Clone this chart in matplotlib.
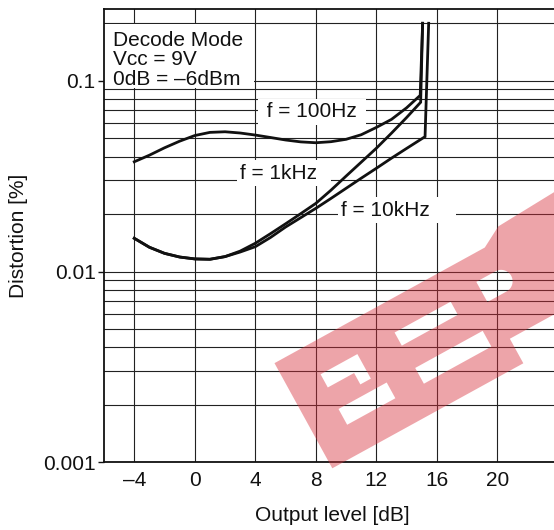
import numpy as np
import matplotlib
matplotlib.use("Agg")
import matplotlib.pyplot as plt
from matplotlib.path import Path
from matplotlib.patches import PathPatch, Rectangle
from matplotlib.transforms import Affine2D
from matplotlib.ticker import FixedLocator, LogLocator, NullFormatter

plt.rcParams['font.family'] = ['Liberation Sans', 'DejaVu Sans']

# ---------------- data ----------------
level_100hz = [-4, -3, -2, -1, 0, 1, 2, 3, 4, 5, 6, 7, 8, 9, 10, 11, 12, 13, 14, 14.9, 15.06]
thd_100hz = [0.0376, 0.0407, 0.0445, 0.0482, 0.0516, 0.0536, 0.0540, 0.0532, 0.0519, 0.0504,
             0.0489, 0.0478, 0.0473, 0.0479, 0.0493, 0.0521, 0.0569, 0.0627, 0.0721, 0.0838, 0.2]

level_1khz = [-4, -3, -2, -1, 0, 1, 2, 3, 4, 5, 6, 7, 8, 9, 10, 11, 12, 13, 14, 14.93, 15.06]
thd_1khz = [0.01493, 0.01340, 0.01245, 0.01191, 0.01164, 0.01159, 0.01197, 0.01279, 0.01406,
            0.01578, 0.01778, 0.02009, 0.02275, 0.02667, 0.03162, 0.03741, 0.04426, 0.05309,
            0.06412, 0.0771, 0.2]

level_10khz = [-4, -3, -2, -1, 0, 1, 2, 3, 4, 5, 6, 7, 8, 9, 10, 11, 12, 13, 14, 15.22, 15.46]
thd_10khz = [0.01493, 0.01340, 0.01245, 0.01191, 0.01164, 0.01159, 0.01197, 0.01265, 0.01349,
             0.01507, 0.01710, 0.01914, 0.02143, 0.02415, 0.02729, 0.03083, 0.03475, 0.03926,
             0.04416, 0.0509, 0.2]

x_ticks = [-4, 0, 4, 8, 12, 16, 20]
x_tick_labels = ['\u20134', '0', '4', '8', '12', '16', '20']
y_ticks = [0.001, 0.01, 0.1]
y_tick_labels = ['0.001', '0.01', '0.1']
curve_labels = ['f = 100Hz', 'f = 1kHz', 'f = 10kHz']
conditions = 'Decode Mode\nVcc = 9V\n0dB = \u20136dBm'

# ---------------- figure ----------------
W, H = 554, 530
fig = plt.figure(figsize=(W / 100, H / 100), dpi=100)
ax = fig.add_axes([104 / W, (H - 462.3) / H, 514.4 / W, 453.3 / H])

ax.set_yscale('log')
ax.set_xlim(-6, 28)
ax.set_ylim(0.001, 0.2376)

ink = '#111111'
for lx, ly in [(level_100hz, thd_100hz), (level_1khz, thd_1khz), (level_10khz, thd_10khz)]:
    ax.plot(lx, ly, color=ink, lw=2.0, zorder=4, solid_joinstyle='miter')

ax.xaxis.set_major_locator(FixedLocator(x_ticks))
ax.set_xticklabels(x_tick_labels)
ax.yaxis.set_major_locator(FixedLocator(y_ticks))
ax.set_yticklabels(y_tick_labels)
ax.yaxis.set_minor_locator(LogLocator(base=10, subs=range(2, 10)))
ax.yaxis.set_minor_formatter(NullFormatter())

ax.set_axisbelow(True)
ax.grid(True, which='major', axis='both', color='#222222', lw=0.8)
ax.grid(True, which='minor', axis='y', color='#222222', lw=0.8)

ax.tick_params(axis='x', length=0, pad=6, labelsize=15, colors='#111111')
ax.tick_params(axis='y', which='major', length=4, width=1.0, pad=2, labelsize=15, colors='#111111')
ax.tick_params(axis='y', which='minor', length=0)
for side in ['left', 'bottom', 'top']:
    ax.spines[side].set_linewidth(1.3)
    ax.spines[side].set_color('#111111')
ax.spines['right'].set_visible(False)

ax.set_xlabel('Output level [dB]', fontsize=15, color='#111111')
ax.xaxis.set_label_coords((332 - 104) / 514.4, -0.118)
ax.xaxis.label.set_va('center')
ax.set_ylabel('Distortion [%]', fontsize=15, color='#111111')
ax.yaxis.set_label_coords((18.5 - 104) / 514.4, 0.5)
ax.yaxis.label.set_va('center')

# condition box (white background behind the text)
ax.add_patch(Rectangle((0, (462.3 - 88) / 453.3), 150 / 514.4, 64 / 453.3,
                       transform=ax.transAxes, fc='white', ec='none', zorder=2.5))
ax.text(9 / 514.4, 0.9514, conditions, transform=ax.transAxes, ha='left', va='top',
        fontsize=15, linespacing=1.03, color='#111111', zorder=3)

# curve labels
box = dict(boxstyle='square,pad=0.15', fc='white', ec='none')
ax.text(7.75, 0.0686, ' ' + curve_labels[0] + ' ', ha='center', va='center', fontsize=15,
        color='#111111', zorder=3, bbox=box)
ax.text(5.9, 0.0328, curve_labels[1] + '  ', ha='center', va='center', fontsize=15,
        color='#111111', zorder=3, bbox=box)
ax.text(9.66, 0.0210, curve_labels[2] + '    ', ha='left', va='center', fontsize=15,
        color='#111111', zorder=3, bbox=box)

# ---------------- watermark (semi-transparent logo overlay) ----------------
def poly(pts, ccw=True):
    pts = list(pts)
    if not ccw:
        pts = pts[::-1]
    codes = [Path.MOVETO] + [Path.LINETO] * (len(pts) - 1) + [Path.CLOSEPOLY]
    return Path(pts + [pts[0]], codes)

outer = poly([(0, 0), (218, 0), (218, 28), (345, 28), (345, 136), (262, 132), (240, 120), (0, 120)])
h1 = poly([(35, 73), (65, 73), (65, 60), (77, 60), (77, 88), (35, 88)], ccw=False)
h2 = poly([(34, 31), (89, 31), (89, 49), (34, 49)], ccw=False)
h3 = poly([(120, 74), (184, 74), (184, 89), (120, 89)], ccw=False)
h4 = poly([(121, 30), (198, 30), (198, 48), (121, 48)], ccw=False)
ang = np.linspace(-np.pi / 2, np.pi / 2, 20)
dpts = [(216, 71)] + [(238 + 11.5 * np.cos(a), 82.5 + 11.5 * np.sin(a)) for a in ang] + [(216, 94)]
h5 = poly(dpts, ccw=False)
logo = Path.make_compound_path(outer, h1, h2, h3, h4, h5)
trans = Affine2D().rotate_deg(28.8).translate(332.3, H - 468.3).scale(1 / 100) + fig.dpi_scale_trans
wm = PathPatch(logo, facecolor='#d8303c', edgecolor='none', alpha=0.44, transform=trans, zorder=10)
fig.add_artist(wm)

fig.savefig('out.png', dpi=100)
